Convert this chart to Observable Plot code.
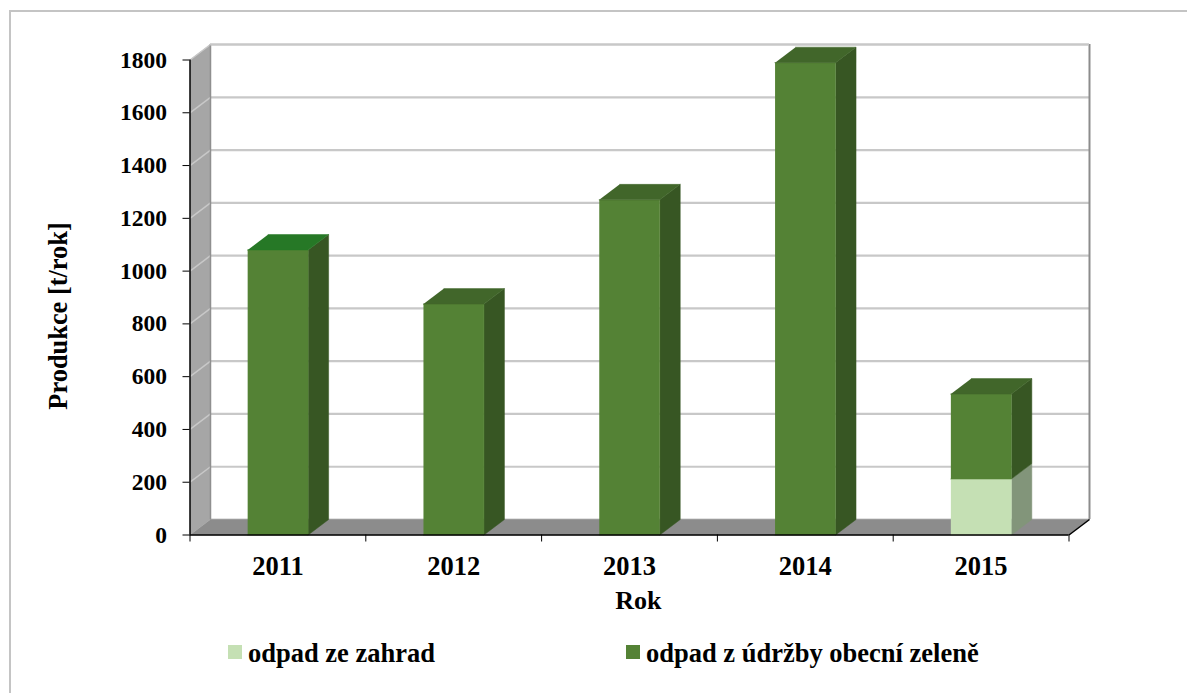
<!DOCTYPE html>
<html lang="cs">
<head>
<meta charset="utf-8">
<script src="https://cdn.jsdelivr.net/npm/d3@7"></script>
<script src="https://cdn.jsdelivr.net/npm/@observablehq/plot@0.6"></script>
<style>
  html, body { margin: 0; padding: 0; background: #fff; }
  body { width: 1187px; height: 693px; overflow: hidden; position: relative; }
  #frame { position: absolute; left: 9px; top: 10px; right: 0; bottom: 0; border-left: 2px solid #c4c4c4; border-top: 2px solid #c4c4c4; }
  #chart { position: absolute; left: 0; top: 0; }
  #chart svg { display: block; background: transparent; }
  #legend { position: absolute; top: 635px; left: 0; width: 1187px; height: 36px; font: bold 26.5px "Liberation Serif", serif; color: #000; }
  #legend span.item { position: absolute; top: 0; line-height: 36px; white-space: nowrap; }
  #legend span.sw { position: absolute; top: 10px; width: 14px; height: 14px; }
</style>
</head>
<body>
<div id="frame"></div>
<div id="chart"></div>
<div id="legend"></div>
<script>
const years = ["2011", "2012", "2013", "2014", "2015"];
const zahrady = [0, 0, 0, 0, 212];
const udrzba = [1080, 875, 1270, 1790, 322];
const yTicks = [0, 200, 400, 600, 800, 1000, 1200, 1400, 1600, 1800];
const seriesNames = ["odpad ze zahrad", "odpad z údržby obecní zeleně"];
const frontColors = ["#c5e0b4", "#548235"];
const sideColors = ["#82957a", "#375623"];
const topColors = ["#267826", "#41662a", "#41662a", "#41662a", "#41662a"];

const depthX = 0.1166, depthY = 58.7, halfBar = 0.172;
const font = "Liberation Serif";

function face(points, fill) {
  return Plot.line(points.map(([x, y]) => ({x, y})), {x: "x", y: "y", fill, stroke: fill, strokeWidth: 0.5});
}

const gridBack = Plot.ruleY(yTicks, {x1: depthX, x2: 5 + depthX, y: d => d + depthY, stroke: "#c8c8c8", strokeWidth: 2.2});
const gridSide = Plot.link(yTicks.slice(1), {x1: 0, y1: d => d, x2: depthX, y2: d => d + depthY, stroke: "#c8c8c8", strokeWidth: 1.5});

const barMarks = years.flatMap((year, i) => {
  const l = i + 0.5 - halfBar, r = i + 0.5 + halfBar;
  const parts = [[0, zahrady[i], 0], [zahrady[i], zahrady[i] + udrzba[i], 1]].filter(p => p[1] > p[0]);
  const tot = zahrady[i] + udrzba[i];
  return [
    ...parts.map(([a, b, s]) => face([[r, a], [r + depthX, a + depthY], [r + depthX, b + depthY], [r, b]], sideColors[s])),
    ...parts.map(([a, b, s]) => face([[l, a], [r, a], [r, b], [l, b]], frontColors[s])),
    face([[l, tot], [r, tot], [r + depthX, tot + depthY], [l + depthX, tot + depthY]], topColors[i])
  ];
});

const plot = Plot.plot({
  width: 1187,
  height: 632,
  marginLeft: 189.5,
  marginRight: 118.5,
  marginTop: 59.5,
  marginBottom: 97.5,
  x: {type: "linear", domain: [0, 5]},
  y: {type: "linear", domain: [0, 1800]},
  style: {fontFamily: font, fontWeight: "bold", color: "#000", overflow: "visible"},
  marks: [
    // back wall with grid
    gridBack,
    Plot.ruleX([5 + depthX], {y1: depthY, y2: 1800 + depthY, stroke: "#8c8c8c", strokeWidth: 2}),
    // left wall
    face([[0, 0], [depthX, depthY], [depthX, 1800 + depthY], [0, 1800]], "#a6a6a6"),
    gridSide,
    Plot.ruleX([depthX], {y1: depthY, y2: 1800 + depthY, stroke: "#8f8f8f", strokeWidth: 1.5}),
    Plot.ruleY([1800 + depthY], {x1: depthX, x2: 5 + depthX, stroke: "#c8c8c8", strokeWidth: 2.2}),
    // floor
    face([[0, 0], [5, 0], [5 + depthX, depthY], [depthX, depthY]], "#8c8c8c"),
    Plot.link([0], {x1: 5, y1: 0, x2: 5 + depthX, y2: depthY, stroke: "#000", strokeWidth: 1.5}),
    // bars
    ...barMarks,
    // axes
    Plot.ruleX([0], {y1: 0, y2: 1800, stroke: "#000", strokeWidth: 1.5}),
    Plot.ruleY([0], {x1: 0, x2: 5, stroke: "#000", strokeWidth: 1.5}),
    Plot.axisY({ticks: yTicks, tickSize: 7, tickPadding: 16, tickFormat: "d", fontSize: 23.5, fontWeight: "bold", label: null, anchor: "left", stroke: "#000"}),
    Plot.axisX({ticks: [0, 1, 2, 3, 4, 5], tickSize: 7, tickFormat: () => "", label: null, anchor: "bottom", stroke: "#000"}),
    Plot.axisX({ticks: years.map((_, i) => i + 0.5), tickSize: 0, tickPadding: 21, tickFormat: d => years[d - 0.5], fontSize: 26.5, fontWeight: "bold", label: null, anchor: "bottom"}),
    Plot.text(["Rok"], {x: 2.55, y: () => -249, text: d => d, fontSize: 26, fontWeight: "bold", fill: "#000", lineAnchor: "middle"}),
    Plot.text(["Produkce [t/rok]"], {x: -0.75, y: 830, rotate: -90, text: d => d, fontSize: 26.4, fontWeight: "bold", fill: "#000", lineAnchor: "middle"})
  ]
});
document.getElementById("chart").appendChild(plot);

const legend = document.getElementById("legend");
const legendPos = [[228, 248], [626, 646]];
seriesNames.forEach((name, i) => {
  const sw = document.createElement("span");
  sw.className = "sw";
  sw.style.left = legendPos[i][0] + "px";
  sw.style.background = frontColors[i];
  const t = document.createElement("span");
  t.className = "item";
  t.style.left = legendPos[i][1] + "px";
  t.textContent = name;
  legend.append(sw, t);
});
</script>
</body>
</html>
